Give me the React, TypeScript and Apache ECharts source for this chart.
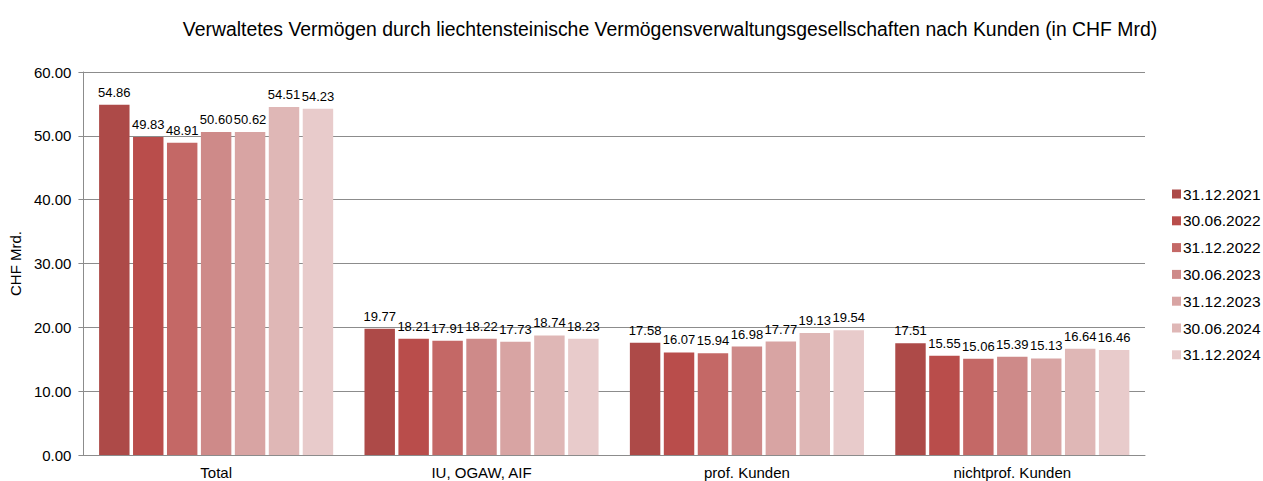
import React, { useEffect, useRef } from "react";
import * as echarts from "echarts";

const categories = ["Total", "IU, OGAW, AIF", "prof. Kunden", "nichtprof. Kunden"];
const seriesNames = ["31.12.2021", "30.06.2022", "31.12.2022", "30.06.2023", "31.12.2023", "30.06.2024", "31.12.2024"];
const s2021_12 = [54.86, 19.77, 17.58, 17.51];
const s2022_06 = [49.83, 18.21, 16.07, 15.55];
const s2022_12 = [48.91, 17.91, 15.94, 15.06];
const s2023_06 = [50.6, 18.22, 16.98, 15.39];
const s2023_12 = [50.62, 17.73, 17.77, 15.13];
const s2024_06 = [54.51, 18.74, 19.13, 16.64];
const s2024_12 = [54.23, 18.23, 19.54, 16.46];
const seriesValues = [s2021_12, s2022_06, s2022_12, s2023_06, s2023_12, s2024_06, s2024_12];
const colors = ["#AD4A48", "#B94D4B", "#C46866", "#CE8A89", "#D8A4A3", "#DFB7B6", "#E8CBCB"];

const font = "'Liberation Sans', Arial, sans-serif";

export default function App() {
  const ref = useRef<HTMLDivElement>(null);
  useEffect(() => {
    const chart = echarts.init(ref.current!, null, { renderer: "svg" });
    chart.setOption({
      animation: false,
      title: {
        text: "Verwaltetes Vermögen durch liechtensteinische Vermögensverwaltungsgesellschaften nach Kunden (in CHF Mrd)",
        left: 665,
        textAlign: "center",
        top: 14,
        textStyle: { fontFamily: font, fontSize: 19.4, fontWeight: "normal", color: "#000" },
      },
      legend: {
        orient: "vertical",
        left: 1167,
        top: 181,
        itemWidth: 9,
        itemHeight: 9,
        itemGap: 10.8,
        icon: "rect",
        textStyle: { fontFamily: font, fontSize: 15.5, lineHeight: 16, color: "#000", padding: [0, 0, 0, -3] },
        data: seriesNames,
      },
      grid: { left: 82, right: 118, top: 72, bottom: 26 },
      xAxis: {
        type: "category",
        data: categories,
        axisLine: { lineStyle: { color: "#8c8c8c", width: 1 } },
        axisTick: { show: false },
        axisLabel: { fontFamily: font, fontSize: 15, color: "#000", margin: 10 },
      },
      yAxis: {
        type: "value",
        min: 0,
        max: 60,
        interval: 10,
        name: "CHF Mrd.",
        nameLocation: "middle",
        nameGap: 53,
        nameTextStyle: { fontFamily: font, fontSize: 15, color: "#000" },
        axisLine: { show: true, lineStyle: { color: "#8c8c8c" } },
        axisTick: { show: true, length: 5, lineStyle: { color: "#8c8c8c" } },
        splitLine: { lineStyle: { color: "#8c8c8c" } },
        axisLabel: {
          fontFamily: font,
          fontSize: 15,
          color: "#000",
          margin: 12,
          formatter: (v: number) => v.toFixed(2),
        },
      },
      series: seriesNames.map((name, i) => ({
        name,
        type: "bar",
        data: seriesValues[i],
        barCategoryGap: "11.8%",
        barGap: "11.5%",
        itemStyle: { color: colors[i] },
        label: {
          show: true,
          position: "top",
          distance: 6,
          fontFamily: font,
          fontSize: 13,
          color: "#000",
          formatter: (p: any) => p.value.toFixed(2),
        },
      })),
    });
    return () => chart.dispose();
  }, []);
  return <div ref={ref} style={{ position: "absolute", left: 0, top: 0, width: 1263, height: 481 }} />;
}
